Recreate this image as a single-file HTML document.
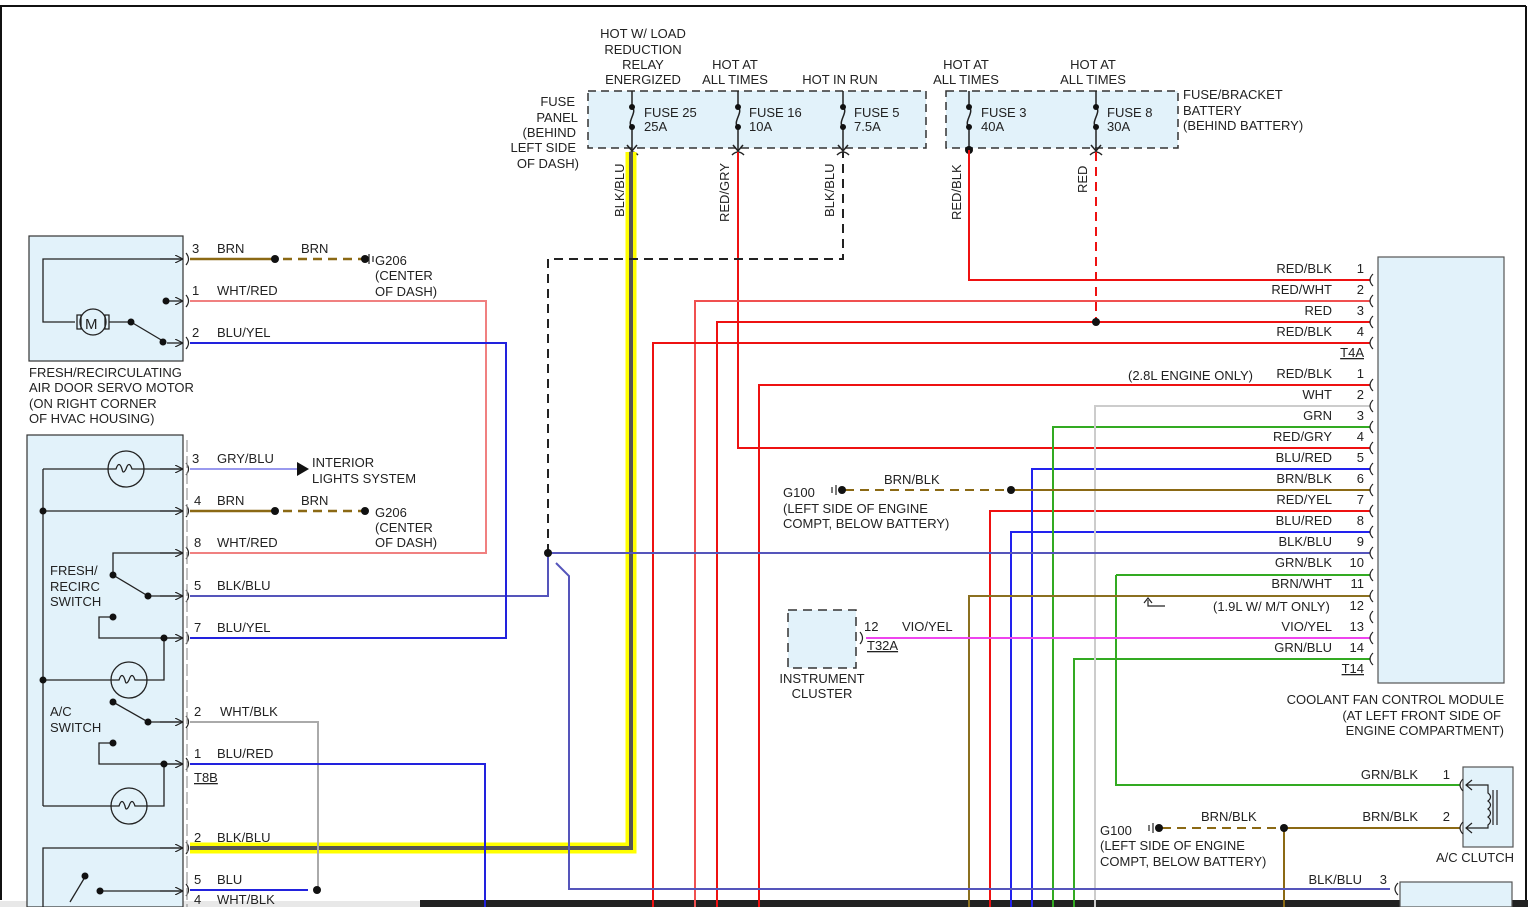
<!DOCTYPE html>
<html><head><meta charset="utf-8"><style>
html,body{margin:0;padding:0;background:#fff;}
svg{display:block;}
text{font-family:"Liberation Sans",sans-serif;font-size:13px;fill:#222;}
</style></head><body>
<svg width="1528" height="907" viewBox="0 0 1528 907" xmlns="http://www.w3.org/2000/svg">
<defs>
<marker id="ar" viewBox="0 0 10 10" refX="10" refY="5" markerWidth="8" markerHeight="8" orient="auto" markerUnits="userSpaceOnUse"><path d="M0,0 L10,5 L0,10" fill="none" stroke="#222" stroke-width="1.5"/></marker>
</defs>
<rect width="1528" height="907" fill="#fff"/>
<!-- border -->
<line x1="0" y1="6" x2="1526" y2="6" stroke="#111" stroke-width="2"/>
<line x1="1526" y1="6" x2="1526" y2="900" stroke="#111" stroke-width="2"/>
<line x1="1" y1="6" x2="1" y2="900" stroke="#111" stroke-width="2"/>
<rect x="420" y="900" width="1108" height="7" fill="#222"/>
<rect x="0" y="901" width="420" height="6" fill="#e8e8e8"/>

<!-- fuse panels -->
<rect x="588" y="91" width="338" height="57" fill="#e2f2fa" stroke="#333" stroke-dasharray="8,5" stroke-width="1.5"/>
<rect x="946" y="91" width="232" height="57" fill="#e2f2fa" stroke="#333" stroke-dasharray="8,5" stroke-width="1.5"/>
<g stroke="#222" stroke-width="1.5" fill="none">
<path d="M632,91 V107 M632,127 V150"/><path d="M632,107 c6,5 -6,15 0,20"/>
<path d="M738,91 V107 M738,127 V150"/><path d="M738,107 c6,5 -6,15 0,20"/>
<path d="M843,91 V107 M843,127 V150"/><path d="M843,107 c6,5 -6,15 0,20"/>
<path d="M969,91 V107 M969,127 V150"/><path d="M969,107 c6,5 -6,15 0,20"/>
<path d="M1096,91 V107 M1096,127 V150"/><path d="M1096,107 c6,5 -6,15 0,20"/>
<path d="M627,145 L632,151 L637,145 M733,145 L738,151 L743,145 M838,145 L843,151 L848,145 M1091,145 L1096,151 L1101,145"/>
<path d="M626,155 q6,-6 12,0 M732,155 q6,-6 12,0 M837,155 q6,-6 12,0 M1090,155 q6,-6 12,0"/>
</g>
<g fill="#111">
<circle cx="632" cy="107" r="3"/><circle cx="632" cy="127" r="3"/>
<circle cx="738" cy="107" r="3"/><circle cx="738" cy="127" r="3"/>
<circle cx="843" cy="107" r="3"/><circle cx="843" cy="127" r="3"/>
<circle cx="969" cy="107" r="3"/><circle cx="969" cy="127" r="3"/>
<circle cx="1096" cy="107" r="3"/><circle cx="1096" cy="127" r="3"/>
<circle cx="969" cy="150" r="4"/>
</g>
<g>
<text x="644" y="117">FUSE 25</text><text x="644" y="131">25A</text>
<text x="749" y="117">FUSE 16</text><text x="749" y="131">10A</text>
<text x="854" y="117">FUSE 5</text><text x="854" y="131">7.5A</text>
<text x="981" y="117">FUSE 3</text><text x="981" y="131">40A</text>
<text x="1107" y="117">FUSE 8</text><text x="1107" y="131">30A</text>
<g text-anchor="middle">
<text x="643" y="38">HOT W/ LOAD</text><text x="643" y="54">REDUCTION</text><text x="643" y="69">RELAY</text><text x="643" y="84">ENERGIZED</text>
<text x="735" y="69">HOT AT</text><text x="735" y="84">ALL TIMES</text>
<text x="840" y="84">HOT IN RUN</text>
<text x="966" y="69">HOT AT</text><text x="966" y="84">ALL TIMES</text>
<text x="1093" y="69">HOT AT</text><text x="1093" y="84">ALL TIMES</text>
</g>
<g text-anchor="end">
<text x="575" y="106">FUSE</text><text x="578" y="122">PANEL</text><text x="576" y="137">(BEHIND</text><text x="576" y="152">LEFT SIDE</text><text x="579" y="168">OF DASH)</text>
</g>
<text x="1183" y="99">FUSE/BRACKET</text><text x="1183" y="115">BATTERY</text><text x="1183" y="130">(BEHIND BATTERY)</text>
<text transform="translate(624,217) rotate(-90)">BLK/BLU</text>
<text transform="translate(729,222) rotate(-90)">RED/GRY</text>
<text transform="translate(834,217) rotate(-90)">BLK/BLU</text>
<text transform="translate(961,220) rotate(-90)">RED/BLK</text>
<text transform="translate(1087,193) rotate(-90)">RED</text>
</g>

<!-- coolant module -->
<rect x="1378" y="257" width="126" height="426" fill="#e2f2fa" stroke="#555" stroke-width="1.2"/>
<rect x="1463" y="767" width="50" height="80" fill="#e2f2fa" stroke="#555" stroke-width="1.2"/>
<rect x="1400" y="882" width="112" height="25" fill="#e2f2fa" stroke="#555" stroke-width="1.2"/>

<!-- wires: verticals -->
<g fill="none" stroke-width="2">
<!-- yellow BLK/BLU -->
<path d="M631,152 V848 H190" stroke="#ffff00" stroke-width="11"/>
<path d="M631,152 V848 H190" stroke="#555" stroke-width="4"/>
<!-- reds -->
<path d="M969,150 V280 H1370" stroke="#ee1111"/>
<path d="M738,152 V448 H1370" stroke="#ee1111"/>
<path d="M1096,152 V322" stroke="#ee1111" stroke-dasharray="9,6"/>
<path d="M695,907 V301 H1370" stroke="#f05050"/>
<path d="M717,907 V322 H1370" stroke="#ee1111"/>
<path d="M653,907 V343 H1370" stroke="#ee1111"/>
<path d="M759,907 V385 H1370" stroke="#ee1111"/>
<path d="M990,907 V511 H1370" stroke="#ee1111"/>
<!-- blues -->
<path d="M1032,907 V469 H1370" stroke="#2222ee"/>
<path d="M1011,907 V532 H1370" stroke="#2222ee"/>
<!-- greens -->
<path d="M1053,907 V427 H1370" stroke="#33aa22"/>
<path d="M1074,907 V659 H1370" stroke="#33aa22"/>
<path d="M1116,575 V785 H1460" stroke="#33aa22"/>
<path d="M1116,575 H1370" stroke="#33aa22"/>
<!-- white -->
<path d="M1095,907 V406 H1370" stroke="#cccccc"/>
<!-- brn/wht -->
<path d="M969,907 V596 H1370" stroke="#8b7020"/>
<!-- brn/blk G100 -->
<path d="M845,490 H1011" stroke="#8b6914" stroke-dasharray="9,6"/>
<path d="M1011,490 H1370" stroke="#8b6914"/>
<path d="M1162,828 H1284" stroke="#8b6914" stroke-dasharray="9,6"/>
<path d="M1284,828 H1460 M1284,828 V907" stroke="#8b6914"/>
<!-- vio/yel -->
<path d="M866,638 H1370" stroke="#ee44ee"/>
<!-- BLK/BLU 9 -->
<path d="M548,553 H1370" stroke="#5555bb"/>
<path d="M556,563 L569,576 V889 H1390" stroke="#5555bb"/>
<path d="M190,596 H548 V553" stroke="#5555bb"/>
<path d="M548,553 V259 H843 V152" stroke="#222" stroke-dasharray="9,6"/>
<!-- left wires -->
<path d="M190,259 H275" stroke="#8b6914" stroke-width="2.5"/>
<path d="M283,259 H362" stroke="#8b6914" stroke-width="2.5" stroke-dasharray="9,6"/>
<path d="M190,511 H275" stroke="#8b6914" stroke-width="2.5"/>
<path d="M283,511 H362" stroke="#8b6914" stroke-width="2.5" stroke-dasharray="9,6"/>
<path d="M190,301 H486 V553 H190" stroke="#f08080"/>
<path d="M190,343 H506 V638 H190" stroke="#2222dd"/>
<path d="M190,469 H300" stroke="#9999ee"/>
<path d="M190,722 H318 V890" stroke="#aaaaaa"/>
<path d="M190,764 H485 V907" stroke="#2222dd"/>
<path d="M190,890 H308" stroke="#2222dd"/>
</g>
<polygon points="297,462 309,469 297,476" fill="#111"/>
<g fill="#111">
<circle cx="275" cy="259" r="4"/><circle cx="365" cy="259" r="4"/>
<circle cx="275" cy="511" r="4"/><circle cx="365" cy="511" r="4"/>
<circle cx="548" cy="553" r="4"/><circle cx="1096" cy="322" r="4"/>
<circle cx="1011" cy="490" r="4"/><circle cx="842" cy="490" r="4"/>
<circle cx="1284" cy="828" r="4"/><circle cx="1159" cy="828" r="4"/>
<circle cx="317" cy="890" r="4"/>
</g>
<g stroke="#222" stroke-width="1.2">
<path d="M369,254 V264 M373,256 V262 M836,485 V495 M832,487 V493 M1153,823 V833 M1149,825 V831"/>
</g>

<!-- connector brackets left -->
<g fill="none" stroke="#222" stroke-width="1.2">
<path d="M186,253 q5,6 0,12 M186,295 q5,6 0,12 M186,337 q5,6 0,12 M186,463 q5,6 0,12 M186,505 q5,6 0,12 M186,547 q5,6 0,12 M186,590 q5,6 0,12 M186,632 q5,6 0,12 M186,716 q5,6 0,12 M186,758 q5,6 0,12 M186,842 q5,6 0,12 M186,884 q5,6 0,12 M860,632 q5,6 0,12"/>
<path d="M187,440 V907" stroke="#999" stroke-dasharray="12,4"/>
<path d="M1373,274 q-6,6 0,12 M1373,295 q-6,6 0,12 M1373,316 q-6,6 0,12 M1373,337 q-6,6 0,12 M1373,379 q-6,6 0,12 M1373,400 q-6,6 0,12 M1373,421 q-6,6 0,12 M1373,442 q-6,6 0,12 M1373,463 q-6,6 0,12 M1373,484 q-6,6 0,12 M1373,505 q-6,6 0,12 M1373,526 q-6,6 0,12 M1373,547 q-6,6 0,12 M1373,569 q-6,6 0,12 M1373,590 q-6,6 0,12 M1373,611 q-6,6 0,12 M1373,632 q-6,6 0,12 M1373,653 q-6,6 0,12 M1463,779 q-6,6 0,12 M1463,822 q-6,6 0,12 M1398,883 q-6,6 0,12"/>
<!-- ac clutch coil -->
<path d="M1466,785 H1488 V793 q5,4 0,8 q5,4 0,8 q5,4 0,8 q5,4 0,8 V828 H1466"/>
<path d="M1472,780 L1466,785 L1472,790 M1472,823 L1466,828 L1472,833"/>
<path d="M1493,790 V825 M1497,790 V825"/>
<path d="M1148,600 V606 H1165 M1144,603 L1148,598 L1152,603"/>
</g>

<!-- instrument cluster -->
<rect x="788" y="610" width="68" height="58" fill="#e2f2fa" stroke="#333" stroke-width="1.5" stroke-dasharray="9,6"/>

<!-- left components -->
<rect x="29" y="236" width="154" height="125" fill="#e2f2fa" stroke="#333" stroke-width="1.2"/>
<rect x="27" y="435" width="156" height="472" fill="#e2f2fa" stroke="#333" stroke-width="1.2"/>
<g fill="none" stroke="#222" stroke-width="1.3">
<path d="M183,259 H43 V322 H75 M109,322 H131 L163,341" />
<path d="M167,301 H183" marker-end="url(#ar)"/>
<path d="M167,343 H183" marker-end="url(#ar)"/>
<path d="M160,259 H183" marker-end="url(#ar)"/>
<circle cx="93" cy="322" r="13" fill="#e2f2fa"/>
<path d="M77,315 H81 V329 H77 Z M105,315 H109 V329 H105 Z"/>
<path d="M43,469 H183 M43,469 V806 M43,511 H183" />
<path d="M160,469 H183" marker-end="url(#ar)"/>
<path d="M160,511 H183" marker-end="url(#ar)"/>
<path d="M183,553 H113 V575 L148,596 H183"/>
<path d="M160,553 H183" marker-end="url(#ar)"/>
<path d="M160,596 H183" marker-end="url(#ar)"/>
<path d="M113,617 H99 V638 H183 M164,638 V680 H43"/>
<path d="M160,638 H183" marker-end="url(#ar)"/>
<path d="M113,702 L148,722 H183"/>
<path d="M160,722 H183" marker-end="url(#ar)"/>
<path d="M113,743 H99 V764 H183 M164,764 V806 H43"/>
<path d="M160,764 H183" marker-end="url(#ar)"/>
<path d="M183,848 H43 V907"/>
<path d="M160,848 H183" marker-end="url(#ar)"/>
<path d="M100,891 H183"/>
<path d="M160,891 H183" marker-end="url(#ar)"/>
<path d="M70,902 L85,877"/>
<circle cx="126" cy="469" r="18" fill="#e2f2fa"/>
<circle cx="129" cy="680" r="18" fill="#e2f2fa"/>
<circle cx="129" cy="806" r="18" fill="#e2f2fa"/>
<path d="M108,469 H116 q3,-9 6,0 q1,6 4,0 q3,-9 6,0 H144 M111,680 H119 q3,-9 6,0 q1,6 4,0 q3,-9 6,0 H147 M111,806 H119 q3,-9 6,0 q1,6 4,0 q3,-9 6,0 H147"/>
</g>
<text x="85" y="329" style="font-size:15px">M</text>
<g fill="#111">
<circle cx="131" cy="322" r="3.5"/><circle cx="163" cy="342" r="3.5"/><circle cx="166" cy="301" r="3.5"/>
<circle cx="43" cy="511" r="3.5"/><circle cx="113" cy="575" r="3.5"/><circle cx="148" cy="596" r="3.5"/>
<circle cx="113" cy="617" r="3.5"/><circle cx="164" cy="638" r="3.5"/><circle cx="43" cy="680" r="3.5"/>
<circle cx="113" cy="702" r="3.5"/><circle cx="148" cy="722" r="3.5"/><circle cx="113" cy="743" r="3.5"/>
<circle cx="164" cy="764" r="3.5"/><circle cx="85" cy="876" r="3.5"/><circle cx="100" cy="891" r="3.5"/>
</g>

<!-- left labels -->
<g>
<text x="29" y="377">FRESH/RECIRCULATING</text><text x="29" y="392">AIR DOOR SERVO MOTOR</text><text x="29" y="408">(ON RIGHT CORNER</text><text x="29" y="423">OF HVAC HOUSING)</text>
<text x="50" y="575">FRESH/</text><text x="50" y="591">RECIRC</text><text x="50" y="606">SWITCH</text>
<text x="50" y="716">A/C</text><text x="50" y="732">SWITCH</text>
<text x="192" y="253">3</text><text x="217" y="253">BRN</text><text x="301" y="253">BRN</text>
<text x="192" y="295">1</text><text x="217" y="295">WHT/RED</text>
<text x="192" y="337">2</text><text x="217" y="337">BLU/YEL</text>
<text x="375" y="265">G206</text><text x="375" y="280">(CENTER</text><text x="375" y="296">OF DASH)</text>
<text x="192" y="463">3</text><text x="217" y="463">GRY/BLU</text>
<text x="312" y="467">INTERIOR</text><text x="312" y="483">LIGHTS SYSTEM</text>
<text x="194" y="505">4</text><text x="217" y="505">BRN</text><text x="301" y="505">BRN</text>
<text x="375" y="517">G206</text><text x="375" y="532">(CENTER</text><text x="375" y="547">OF DASH)</text>
<text x="194" y="547">8</text><text x="217" y="547">WHT/RED</text>
<text x="194" y="590">5</text><text x="217" y="590">BLK/BLU</text>
<text x="194" y="632">7</text><text x="217" y="632">BLU/YEL</text>
<text x="194" y="716">2</text><text x="220" y="716">WHT/BLK</text>
<text x="194" y="758">1</text><text x="217" y="758">BLU/RED</text>
<text x="194" y="782" text-decoration="underline">T8B</text>
<text x="194" y="842">2</text><text x="217" y="842">BLK/BLU</text>
<text x="194" y="884">5</text><text x="217" y="884">BLU</text>
<text x="194" y="904">4</text><text x="217" y="904">WHT/BLK</text>
</g>

<!-- middle labels -->
<g>
<text x="884" y="484">BRN/BLK</text>
<text x="783" y="497">G100</text><text x="783" y="513">(LEFT SIDE OF ENGINE</text><text x="783" y="528">COMPT, BELOW BATTERY)</text>
<text x="864" y="631">12</text><text x="902" y="631">VIO/YEL</text>
<text x="867" y="650" text-decoration="underline">T32A</text>
<text x="822" y="683" text-anchor="middle">INSTRUMENT</text><text x="822" y="698" text-anchor="middle">CLUSTER</text>
<text x="1128" y="380">(2.8L ENGINE ONLY)</text>
<text x="1213" y="611">(1.9L W/ M/T ONLY)</text>
<text x="1201" y="821">BRN/BLK</text>
<text x="1100" y="835">G100</text><text x="1100" y="850">(LEFT SIDE OF ENGINE</text><text x="1100" y="866">COMPT, BELOW BATTERY)</text>
<text x="1504" y="704" text-anchor="end">COOLANT FAN CONTROL MODULE</text>
<text x="1501" y="720" text-anchor="end">(AT LEFT FRONT SIDE OF</text>
<text x="1504" y="735" text-anchor="end">ENGINE COMPARTMENT)</text>
<text x="1436" y="862">A/C CLUTCH</text>
</g>
<g text-anchor="end">
<text x="1332" y="273">RED/BLK</text><text x="1364" y="273">1</text>
<text x="1332" y="294">RED/WHT</text><text x="1364" y="294">2</text>
<text x="1332" y="315">RED</text><text x="1364" y="315">3</text>
<text x="1332" y="336">RED/BLK</text><text x="1364" y="336">4</text>
<text x="1364" y="357" text-decoration="underline">T4A</text>
<text x="1332" y="378">RED/BLK</text><text x="1364" y="378">1</text>
<text x="1332" y="399">WHT</text><text x="1364" y="399">2</text>
<text x="1332" y="420">GRN</text><text x="1364" y="420">3</text>
<text x="1332" y="441">RED/GRY</text><text x="1364" y="441">4</text>
<text x="1332" y="462">BLU/RED</text><text x="1364" y="462">5</text>
<text x="1332" y="483">BRN/BLK</text><text x="1364" y="483">6</text>
<text x="1332" y="504">RED/YEL</text><text x="1364" y="504">7</text>
<text x="1332" y="525">BLU/RED</text><text x="1364" y="525">8</text>
<text x="1332" y="546">BLK/BLU</text><text x="1364" y="546">9</text>
<text x="1332" y="567">GRN/BLK</text><text x="1364" y="567">10</text>
<text x="1332" y="588">BRN/WHT</text><text x="1364" y="588">11</text>
<text x="1364" y="610">12</text>
<text x="1332" y="631">VIO/YEL</text><text x="1364" y="631">13</text>
<text x="1332" y="652">GRN/BLU</text><text x="1364" y="652">14</text>
<text x="1364" y="673" text-decoration="underline">T14</text>
<text x="1418" y="779">GRN/BLK</text><text x="1450" y="779">1</text>
<text x="1418" y="821">BRN/BLK</text><text x="1450" y="821">2</text>
<text x="1362" y="884">BLK/BLU</text><text x="1387" y="884">3</text>
</g>
</svg>
</body></html>
